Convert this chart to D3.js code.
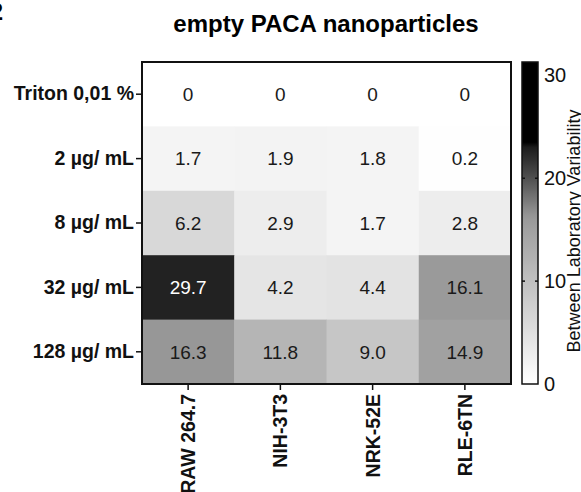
<!DOCTYPE html>
<html lang="en">
<head>
  <meta charset="UTF-8">
  <title>Heatmap</title>
  <script src="https://d3js.org/d3.v7.min.js"></script>
  <style>
    body {
      margin: 0;
      padding: 0;
      background: #ffffff;
      font-family: Arial, "Liberation Sans", sans-serif;
    }
    .axis text {
      font-size: 19.5px;
      font-weight: bold;
      fill: #111;
    }
    .axis path { display: none; }
    .axis line { stroke: #111; stroke-width: 1.5px; }
    .cell-label { font-size: 19px; }
    .cbar-axis text { font-size: 20px; fill: #111; font-weight: normal; }
    .cbar-axis path, .cbar-axis line { display: none; }
  </style>
</head>
<body>
  <div id="chart"></div>
  <script>
    const rows = ["Triton 0,01 %", "2 µg/ mL", "8 µg/ mL", "32 µg/ mL", "128 µg/ mL"];
    const cols = ["RAW 264.7", "NIH-3T3", "NRK-52E", "RLE-6TN"];
    // one array per row, in column order
    const triton = [0, 0, 0, 0];
    const dose2 = [1.7, 1.9, 1.8, 0.2];
    const dose8 = [6.2, 2.9, 1.7, 2.8];
    const dose32 = [29.7, 4.2, 4.4, 16.1];
    const dose128 = [16.3, 11.8, 9.0, 14.9];
    const scaleTicks = [0, 10, 20, 30];

    const values = [triton, dose2, dose8, dose32, dose128];
    const data = [];
    values.forEach((r, i) => r.forEach((v, j) => data.push({ row: rows[i], col: cols[j], value: v })));

    const W = 581, H = 492;
    const plotL = 142, plotR = 511, plotT = 62, plotB = 384;

    const svg = d3.select("#chart").append("svg")
      .attr("width", W)
      .attr("height", H);

    // clipped panel letter at the top-left corner
    svg.append("text")
      .attr("x", 3)
      .attr("y", 20)
      .attr("text-anchor", "end")
      .style("font-size", "24px")
      .style("font-weight", "bold")
      .text("2");

    svg.append("text")
      .attr("x", 326)
      .attr("y", 32)
      .attr("text-anchor", "middle")
      .style("font-size", "24px")
      .style("font-weight", "bold")
      .text("empty PACA nanoparticles");

    const x = d3.scaleBand().domain(cols).range([plotL, plotR]);
    const y = d3.scaleBand().domain(rows).range([plotT, plotB]);

    const color = d3.scaleLinear()
      .domain([0, 16.2, 20, 23])
      .range(["#ffffff", "#999999", "#505050", "#1c1c1c"])
      .clamp(true);

    svg.selectAll("rect.cell")
      .data(data)
      .enter()
      .append("rect")
      .attr("class", "cell")
      .attr("x", d => x(d.col))
      .attr("y", d => y(d.row))
      .attr("width", x.bandwidth() + 0.5)
      .attr("height", y.bandwidth() + 0.5)
      .attr("fill", d => d.value > 29 ? "#222222" : color(d.value));

    svg.selectAll("text.cell-label")
      .data(data)
      .enter()
      .append("text")
      .attr("class", "cell-label")
      .attr("x", d => x(d.col) + x.bandwidth() / 2)
      .attr("y", d => y(d.row) + y.bandwidth() / 2)
      .attr("dy", "0.36em")
      .attr("text-anchor", "middle")
      .attr("fill", d => d.value > 22 ? "#ffffff" : "#1a1a1a")
      .text(d => d.value === 0 ? "0" : d.value.toFixed(1));

    svg.append("rect")
      .attr("x", plotL)
      .attr("y", plotT)
      .attr("width", plotR - plotL)
      .attr("height", plotB - plotT)
      .attr("fill", "none")
      .attr("stroke", "#111")
      .attr("stroke-width", 2);

    svg.append("g")
      .attr("class", "axis")
      .attr("transform", `translate(${plotL - 1},0)`)
      .call(d3.axisLeft(y).tickSize(5).tickPadding(2));

    svg.append("g")
      .attr("class", "axis")
      .attr("transform", `translate(0,${plotB + 1})`)
      .call(d3.axisBottom(x).tickSize(5).tickPadding(3))
      .selectAll("text")
      .attr("transform", "rotate(-90)")
      .attr("text-anchor", "end")
      .attr("x", -9)
      .attr("y", 0)
      .attr("dy", "0.36em");

    // colour bar
    const cbX = 522, cbW = 16;
    const cy = d3.scaleLinear().domain([0, 31.3]).range([plotB, plotT]);

    const grad = svg.append("defs").append("linearGradient")
      .attr("id", "cbar")
      .attr("x1", 0).attr("x2", 0)
      .attr("y1", 1).attr("y2", 0);
    d3.range(0, 31.31, 0.5).forEach(v => {
      grad.append("stop")
        .attr("offset", v / 31.3)
        .attr("stop-color", v > 23 ? "#000000" : color(v));
    });

    svg.append("rect")
      .attr("x", cbX)
      .attr("y", plotT)
      .attr("width", cbW)
      .attr("height", plotB - plotT)
      .attr("fill", "url(#cbar)")
      .attr("stroke", "#111")
      .attr("stroke-width", 1.5);

    svg.selectAll("line.cb-tick")
      .data(scaleTicks.filter(t => t > 0 && t < 30).flatMap(t => [[t, cbX], [t, cbX + cbW - 3]]))
      .enter()
      .append("line")
      .attr("class", "cb-tick")
      .attr("x1", d => d[1])
      .attr("x2", d => d[1] + 3)
      .attr("y1", d => cy(d[0]))
      .attr("y2", d => cy(d[0]))
      .attr("stroke", "#111")
      .attr("stroke-width", 1.5);

    svg.append("g")
      .attr("class", "cbar-axis")
      .attr("transform", `translate(${cbX + cbW},0)`)
      .call(d3.axisRight(cy).tickValues(scaleTicks).tickSize(0).tickPadding(6));

    svg.append("text")
      .attr("transform", `translate(580,231) rotate(-90)`)
      .attr("text-anchor", "middle")
      .style("font-size", "18px")
      .attr("fill", "#111")
      .text("Between Laboratory Variability");
  </script>
</body>
</html>
